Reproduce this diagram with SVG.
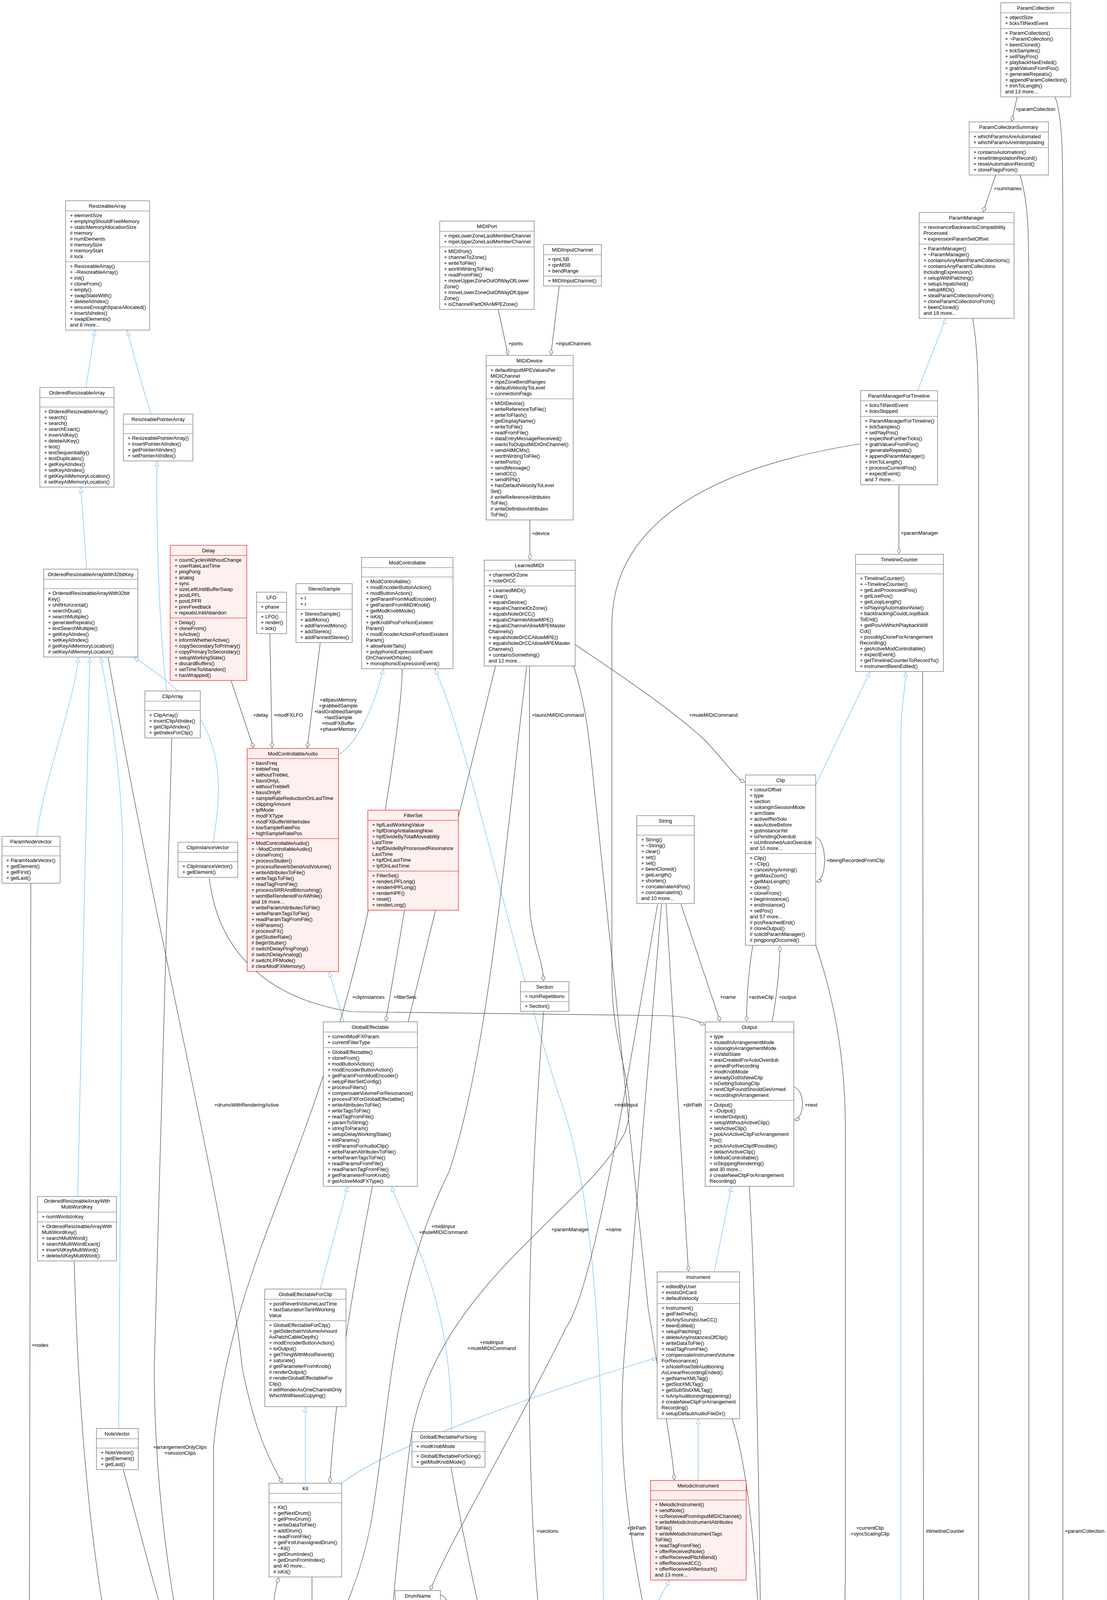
<svg xmlns="http://www.w3.org/2000/svg" width="2835" height="6858" viewBox="0 0 2835 6858">
<style>
text{font-family:"Liberation Sans",Arial,sans-serif;font-size:13px;fill:#000}
.h{text-anchor:middle}
.m{text-anchor:middle}
.node rect{fill:#fff;stroke:#666;stroke-width:1.2}
.node path{stroke:#666;stroke-width:1;fill:none}
.red rect{fill:#fff0f0;stroke:#f00}
.red path{stroke:#f00}
.grey rect{fill:#999;stroke:#666}
.e{fill:none;stroke:#404040;stroke-width:1.2;marker-end:url(#dia)}
.i{fill:none;stroke:#63b8ff;stroke-width:1.2;marker-end:url(#tri)}
</style>
<defs>
<marker id="dia" markerUnits="userSpaceOnUse" markerWidth="16" markerHeight="12" refX="15" refY="6" orient="auto"><path d="M1,6 L8,1.5 L15,6 L8,10.5 Z" fill="#fff" stroke="#404040"/></marker>
<marker id="tri" markerUnits="userSpaceOnUse" markerWidth="14" markerHeight="12" refX="13" refY="6" orient="auto"><path d="M1,1 L13,6 L1,11 Z" fill="#fff" stroke="#63b8ff"/></marker>
</defs>
<rect width="2835" height="6858" fill="#fff"/>
<g id="edges">
<path class="i" d="M220,992 L243,846"/>
<path class="i" d="M387,1060 C370,1010 340,900 326,846"/>
<path class="i" d="M222,1457 L207,1248"/>
<path class="i" d="M427,1769 C405,1600 400,1300 402,1181"/>
<path class="i" d="M94,2141 C110,2000 190,1800 201,1683"/>
<path class="i" d="M199,3063 L230,1683"/>
<path class="i" d="M304,3657 L314,2200 C316,2000 280,1800 258,1683"/>
<path class="i" d="M546,2156 C580,1950 560,1820 343,1683"/>
<path class="i" d="M867,1932 C920,1900 960,1800 982,1713"/>
<path class="i" d="M881,2616 L843,2488"/>
<path class="i" d="M820,3300 L890,3038"/>
<path class="i" d="M1157,3665 C1157,3300 1040,3150 1003,3038"/>
<path class="i" d="M782,3797 L782,3602"/>
<path class="i" d="M875,3797 C1000,3700 1400,3560 1682,3476"/>
<path class="i" d="M1629,4197 L1715,4046"/>
<path class="i" d="M1545,4197 C1545,3600 1540,3100 1430,2800 C1300,2400 1200,1900 1114,1713"/>
<path class="i" d="M1788,3790 L1788,3633"/>
<path class="i" d="M1829,3256 L1873,3038"/>
<path class="i" d="M1713,4649 L1629,4499"/>
<path class="i" d="M2089,2009 L2228,1720"/>
<path class="i" d="M1831,5240 C2100,5150 2307,4900 2307,4600 L2307,1900 C2307,1800 2320,1760 2319,1720"/>
<path class="i" d="M1078,5834 C1250,5780 1450,5720 1600,5653"/>
<path class="i" d="M963,6087 L963,6021"/>
<path class="i" d="M2381,6276 L1069,6137"/>
<path class="i" d="M2564,6417 L2537,6364"/>
<path class="i" d="M1600,6605 L2485,6480"/>
<path class="i" d="M259,6745 L194,6680"/>
<path class="i" d="M2350,1000 L2422,816"/>
<path class="e" d="M1276,793 L1301,908"/>
<path class="e" d="M1432,733 L1411,908"/>
<path class="e" d="M1357,1331 L1357,1432"/>
<path class="e" d="M2605,248 L2591,310"/>
<path class="e" d="M2550,448 L2518,542"/>
<path class="e" d="M2302,1241 L2302,1417"/>
<path class="e" d="M2491,815 C2506,900 2506,1000 2506,1200 L2506,6100 C2506,6160 2501,6180 2501,6211"/>
<path class="e" d="M2612,448 C2635,520 2635,600 2635,800 L2635,6300 C2635,6370 2613,6390 2611,6415"/>
<path class="e" d="M2702,248 C2722,300 2722,400 2722,600 L2722,6300 C2722,6370 2670,6390 2658,6415"/>
<path class="e" d="M2363,1720 L2366,5200 C2366,5450 2100,5560 1840,5596"/>
<path class="e" d="M592,1743 L649,1914"/>
<path class="e" d="M691,1623 L697,1914"/>
<path class="e" d="M820,1646 L787,1914"/>
<path class="e" d="M1036,2330 L988,2614"/>
<path class="e" d="M536,2248 C560,2450 700,2560 900,2590 L1700,2600 C1760,2602 1780,2610 1804,2624"/>
<path class="e" d="M1356,1705 L1356,2300 C1356,2400 1390,2450 1392,2511"/>
<path class="e" d="M1744,2315 L1844,2614"/>
<path class="e" d="M1928,2419 C1915,2500 1912,2560 1912,2614"/>
<path class="e" d="M1977,2616 C1990,2550 1997,2470 1997,2422"/>
<path class="e" d="M2089,2143 C2118,2150 2120,2250 2091,2257"/>
<path class="e" d="M2033,2783 C2062,2790 2062,2860 2035,2867"/>
<path class="e" d="M1473,1650 C1560,1710 1700,1800 1800,1890 C1860,1950 1880,1990 1907,2002"/>
<path class="e" d="M1706,2315 L1763,3254"/>
<path class="e" d="M1684,2315 C1600,2800 1520,3300 1449,3400 C1300,3700 1150,3950 1102,4070"/>
<path class="e" d="M1694,2315 L1600,3450 C1580,3700 1600,3900 1680,4267 C1700,4700 1684,4900 1684,5073"/>
<path class="e" d="M1777,4996 L1762,5073"/>
<path class="e" d="M1919,3037 C1935,3300 1950,4000 1950,4600 C1950,4900 1900,5050 1834,5180"/>
<path class="e" d="M1875,3632 C1930,3800 1955,4200 1955,4600 C1955,4950 1880,5100 1834,5172"/>
<path class="e" d="M2089,2419 C2150,2600 2165,2750 2165,2900 L2165,4000 C2165,4300 2130,4500 2100,4700 C2050,4950 1900,5100 1834,5190"/>
<path class="e" d="M1741,5467 L1741,5530"/>
<path class="e" d="M928,5011 L956,5733"/>
<path class="e" d="M827,4506 L860,4632"/>
<path class="e" d="M1065,4163 L999,4632"/>
<path class="e" d="M799,4038 L799,4188"/>
<path class="e" d="M710,4190 C695,4130 700,4080 714,4039"/>
<path class="e" d="M886,4311 C915,4320 920,4375 888,4381"/>
<path class="e" d="M1128,4083 C1155,4090 1158,4145 1130,4150"/>
<path class="e" d="M1155,3756 C1250,4300 1400,4800 1500,5050 C1540,5150 1570,5200 1606,5218"/>
<path class="e" d="M1030,1713 C1030,1800 1000,2000 950,2300 C800,3000 600,3200 547,3700 L547,5900 C560,6050 750,6090 855,6106"/>
<path class="e" d="M316,3763 C380,4000 480,4400 560,4530 C620,4620 750,4700 807,4757"/>
<path class="e" d="M440,1890 L395,3500 C395,3900 470,4300 540,4500 C700,4900 1300,5150 1606,5262"/>
<path class="e" d="M277,1683 C400,2400 580,3100 620,3500 C650,3650 680,3720 722,3795"/>
<path class="e" d="M79,2262 L75,4300 C80,4400 150,4450 165,4531"/>
<path class="e" d="M202,4608 C280,4900 313,5200 313,5500 L313,6743"/>
<path class="e" d="M190,3229 C200,3600 230,4000 300,4300 C450,4800 700,5000 1000,5100 C1300,5180 1500,5220 1606,5255"/>
<path class="e" d="M1392,2590 C1360,3000 1340,3500 1370,4000 C1400,4500 1520,4800 1625,5073"/>
<path class="e" d="M1794,4408 L1778,4647"/>
<path class="e" d="M1434,6625 L418,6782"/>
<path class="e" d="M1349,1705 C1290,2200 1250,2700 1150,3000 C1000,3300 1000,3600 950,3900 C920,4050 870,4150 848,4188"/>
<path class="e" d="M1469,1705 C1500,1800 1510,1900 1520,2000 C1570,2500 1620,3000 1660,3350 C1700,3600 1720,3700 1727,3788"/>
<path class="e" d="M1269,1705 C1200,2000 1100,2400 1000,2800 C900,3300 860,3550 845,3795"/>
<path class="e" d="M2204,1136 C1800,1200 1567,1350 1567,1600 L1567,2500 C1567,2700 1640,2800 1600,2900 C1500,3100 1100,3300 1050,3700 C1000,4100 985,4400 958,4632"/>
</g>
<g id="labels">
<text x="1302" y="884">+ports</text>
<text x="1423" y="884">+inputChannels</text>
<text x="1362" y="1370">+device</text>
<text x="2601" y="284">+paramCollection</text>
<text x="2545" y="487">+summaries</text>
<text x="2307" y="1369">+paramManager</text>
<text x="648" y="1835">+delay</text>
<text x="701" y="1835">+modFXLFO</text>
<text class="m" x="866" y="1796">+allpassMemory</text>
<text class="m" x="866" y="1811">+grabbedSample</text>
<text class="m" x="866" y="1826">+lastGrabbedSample</text>
<text class="m" x="866" y="1841">+lastSample</text>
<text class="m" x="866" y="1856">+modFXBuffer</text>
<text class="m" x="866" y="1871">+phaserMemory</text>
<text x="1362" y="1835">+launchMIDICommand</text>
<text x="1765" y="1835">+muteMIDICommand</text>
<text x="902" y="2557">+clipInstances</text>
<text x="1008" y="2557">+filterSets</text>
<text x="1844" y="2557">+name</text>
<text x="1917" y="2557">+activeClip</text>
<text x="1995" y="2557">+output</text>
<text x="2117" y="2207">+beingRecordedFromClip</text>
<text x="2061" y="2833">+next</text>
<text x="549" y="2833">+drumsWithRenderingActive</text>
<text x="1573" y="2833">+midiInput</text>
<text x="1749" y="2833">+dirPath</text>
<text class="m" x="1135" y="3144">+midiInput</text>
<text class="m" x="1135" y="3159">+muteMIDICommand</text>
<text x="1412" y="3152">+paramManager</text>
<text x="1551" y="3152">+name</text>
<text x="81" y="3448">+nodes</text>
<text class="m" x="1259" y="3441">+midiInput</text>
<text class="m" x="1259" y="3456">+muteMIDICommand</text>
<text class="m" x="461" y="3709">+arrangementOnlyClips</text>
<text class="m" x="461" y="3724">+sessionClips</text>
<text class="m" x="1630" y="3916">+dirPath</text>
<text class="m" x="1630" y="3931">+name</text>
<text x="1374" y="3924">+sections</text>
<text class="m" x="2228" y="3916">+currentClip</text>
<text class="m" x="2228" y="3931">+syncScalingClip</text>
<text x="2371" y="3924">#timelineCounter</text>
<text x="2727" y="3924">+paramCollection</text>
<text x="2109" y="4124">+firstOutput</text>
<text x="2511" y="4124">+paramManager</text>
<text x="2641" y="4124">+summary</text>
<text x="1959" y="4354">+firstHibernatingInstrument</text>
<text x="1781" y="4576">+mpeOutputMemberChannels</text>
<text x="228" y="4124">+backedUpParamManagers</text>
<text x="421" y="4124">+notes</text>
<text class="m" x="754" y="4116">+firstDrum</text>
<text class="m" x="754" y="4131">+selectedDrum</text>
<text x="805" y="4124">+kit</text>
<text x="914" y="4354">+next</text>
<text x="1156" y="4124">+next</text>
<text x="550" y="4354">+modControllable</text>
<text x="1068" y="4354">+firstOldDrumName</text>
<text x="1270" y="4354">+globalEffectable</text>
<text x="858" y="4576">+drum</text>
<text x="1769" y="5050">+hibernatingMIDIInstrument</text>
<text x="1745" y="5505">+song</text>
<text x="953" y="5505">#noteRow</text>
<text x="318" y="6059">+state</text>
<text x="243" y="6625">+next</text>
<text x="922" y="6717">+modelStack</text>
</g>

<g id="n_ResizeableArray" class="node"><rect x="168" y="514" width="215" height="331"/><path d="M168,540 h215 M168,670 h215"/><text class="h" x="275" y="532">ResizeableArray</text>
<text x="179" y="541"><tspan x="179" dy="15">+ elementSize</tspan><tspan x="179" dy="15">+ emptyingShouldFreeMemory</tspan><tspan x="179" dy="15">+ staticMemoryAllocationSize</tspan><tspan x="179" dy="15"># memory</tspan><tspan x="179" dy="15"># numElements</tspan><tspan x="179" dy="15"># memorySize</tspan><tspan x="179" dy="15"># memoryStart</tspan><tspan x="179" dy="15"># lock</tspan></text>
<text x="179" y="671"><tspan x="179" dy="15">+ ResizeableArray()</tspan><tspan x="179" dy="15">+ ~ResizeableArray()</tspan><tspan x="179" dy="15">+ init()</tspan><tspan x="179" dy="15">+ cloneFrom()</tspan><tspan x="179" dy="15">+ empty()</tspan><tspan x="179" dy="15">+ swapStateWith()</tspan><tspan x="179" dy="15">+ deleteAtIndex()</tspan><tspan x="179" dy="15">+ ensureEnoughSpaceAllocated()</tspan><tspan x="179" dy="15">+ insertAtIndex()</tspan><tspan x="179" dy="15">+ swapElements()</tspan><tspan x="179" dy="15">and 8 more...</tspan></text></g>

<g id="n_OrderedResizeableArray" class="node"><rect x="102" y="992" width="190" height="255"/><path d="M102,1018 h190 M102,1042 h190"/><text class="h" x="197" y="1010">OrderedResizeableArray</text>
<text x="113" y="1043"><tspan x="113" dy="15">+ OrderedResizeableArray()</tspan><tspan x="113" dy="15">+ search()</tspan><tspan x="113" dy="15">+ search()</tspan><tspan x="113" dy="15">+ searchExact()</tspan><tspan x="113" dy="15">+ insertAtKey()</tspan><tspan x="113" dy="15">+ deleteAtKey()</tspan><tspan x="113" dy="15">+ test()</tspan><tspan x="113" dy="15">+ testSequentiality()</tspan><tspan x="113" dy="15">+ testDuplicates()</tspan><tspan x="113" dy="15">+ getKeyAtIndex()</tspan><tspan x="113" dy="15">+ setKeyAtIndex()</tspan><tspan x="113" dy="15"># getKeyAtMemoryLocation()</tspan><tspan x="113" dy="15"># setKeyAtMemoryLocation()</tspan></text></g>

<g id="n_ResizeablePointerArray" class="node"><rect x="316" y="1060" width="178" height="120"/><path d="M316,1086 h178 M316,1110 h178"/><text class="h" x="405" y="1078">ResizeablePointerArray</text>
<text x="327" y="1111"><tspan x="327" dy="15">+ ResizeablePointerArray()</tspan><tspan x="327" dy="15">+ insertPointerAtIndex()</tspan><tspan x="327" dy="15">+ getPointerAtIndex()</tspan><tspan x="327" dy="15">+ setPointerAtIndex()</tspan></text></g>

<g id="n_OrderedResizeableArrayWith32bitKey" class="node"><rect x="112" y="1457" width="241" height="225"/><path d="M112,1483 h241 M112,1507 h241"/><text class="h" x="232" y="1475">OrderedResizeableArrayWith32bitKey</text>
<text x="123" y="1508"><tspan x="123" dy="15">+ OrderedResizeableArrayWith32bit</tspan><tspan x="123" dy="15">Key()</tspan><tspan x="123" dy="15">+ shiftHorizontal()</tspan><tspan x="123" dy="15">+ searchDual()</tspan><tspan x="123" dy="15">+ searchMultiple()</tspan><tspan x="123" dy="15">+ generateRepeats()</tspan><tspan x="123" dy="15">+ testSearchMultiple()</tspan><tspan x="123" dy="15">+ getKeyAtIndex()</tspan><tspan x="123" dy="15">+ setKeyAtIndex()</tspan><tspan x="123" dy="15"># getKeyAtMemoryLocation()</tspan><tspan x="123" dy="15"># setKeyAtMemoryLocation()</tspan></text></g>

<g id="n_Delay" class="node red"><rect x="436" y="1396" width="196" height="346"/><path d="M436,1422 h196 M436,1582 h196"/><text class="h" x="534" y="1414">Delay</text>
<text x="447" y="1423"><tspan x="447" dy="15">+ countCyclesWithoutChange</tspan><tspan x="447" dy="15">+ userRateLastTime</tspan><tspan x="447" dy="15">+ pingPong</tspan><tspan x="447" dy="15">+ analog</tspan><tspan x="447" dy="15">+ sync</tspan><tspan x="447" dy="15">+ sizeLeftUntilBufferSwap</tspan><tspan x="447" dy="15">+ postLPFL</tspan><tspan x="447" dy="15">+ postLPFR</tspan><tspan x="447" dy="15">+ prevFeedback</tspan><tspan x="447" dy="15">+ repeatsUntilAbandon</tspan></text>
<text x="447" y="1583"><tspan x="447" dy="15">+ Delay()</tspan><tspan x="447" dy="15">+ cloneFrom()</tspan><tspan x="447" dy="15">+ isActive()</tspan><tspan x="447" dy="15">+ informWhetherActive()</tspan><tspan x="447" dy="15">+ copySecondaryToPrimary()</tspan><tspan x="447" dy="15">+ copyPrimaryToSecondary()</tspan><tspan x="447" dy="15">+ setupWorkingState()</tspan><tspan x="447" dy="15">+ discardBuffers()</tspan><tspan x="447" dy="15">+ setTimeToAbandon()</tspan><tspan x="447" dy="15">+ hasWrapped()</tspan></text></g>

<g id="n_LFO" class="node"><rect x="657" y="1516" width="77" height="106"/><path d="M657,1542 h77 M657,1567 h77"/><text class="h" x="695" y="1534">LFO</text>
<text x="668" y="1543"><tspan x="668" dy="15">+ phase</tspan></text>
<text x="668" y="1568"><tspan x="668" dy="15">+ LFO()</tspan><tspan x="668" dy="15">+ render()</tspan><tspan x="668" dy="15">+ tick()</tspan></text></g>

<g id="n_StereoSample" class="node"><rect x="758" y="1494" width="144" height="151"/><path d="M758,1520 h144 M758,1560 h144"/><text class="h" x="830" y="1512">StereoSample</text>
<text x="769" y="1521"><tspan x="769" dy="15">+ l</tspan><tspan x="769" dy="15">+ r</tspan></text>
<text x="769" y="1561"><tspan x="769" dy="15">+ StereoSample()</tspan><tspan x="769" dy="15">+ addMono()</tspan><tspan x="769" dy="15">+ addPannedMono()</tspan><tspan x="769" dy="15">+ addStereo()</tspan><tspan x="769" dy="15">+ addPannedStereo()</tspan></text></g>

<g id="n_ModControllable" class="node"><rect x="926" y="1427" width="234" height="285"/><path d="M926,1453 h234 M926,1477 h234"/><text class="h" x="1043" y="1445">ModControllable</text>
<text x="937" y="1478"><tspan x="937" dy="15">+ ModControllable()</tspan><tspan x="937" dy="15">+ modEncoderButtonAction()</tspan><tspan x="937" dy="15">+ modButtonAction()</tspan><tspan x="937" dy="15">+ getParamFromModEncoder()</tspan><tspan x="937" dy="15">+ getParamFromMIDIKnob()</tspan><tspan x="937" dy="15">+ getModKnobMode()</tspan><tspan x="937" dy="15">+ isKit()</tspan><tspan x="937" dy="15">+ getKnobPosForNonExistent</tspan><tspan x="937" dy="15">Param()</tspan><tspan x="937" dy="15">+ modEncoderActionForNonExistent</tspan><tspan x="937" dy="15">Param()</tspan><tspan x="937" dy="15">+ allowNoteTails()</tspan><tspan x="937" dy="15">+ polyphonicExpressionEvent</tspan><tspan x="937" dy="15">OnChannelOrNote()</tspan><tspan x="937" dy="15">+ monophonicExpressionEvent()</tspan></text></g>

<g id="n_MIDIPort" class="node"><rect x="1126" y="566" width="242" height="226"/><path d="M1126,592 h242 M1126,632 h242"/><text class="h" x="1247" y="584">MIDIPort</text>
<text x="1137" y="593"><tspan x="1137" dy="15">+ mpeLowerZoneLastMemberChannel</tspan><tspan x="1137" dy="15">+ mpeUpperZoneLastMemberChannel</tspan></text>
<text x="1137" y="633"><tspan x="1137" dy="15">+ MIDIPort()</tspan><tspan x="1137" dy="15">+ channelToZone()</tspan><tspan x="1137" dy="15">+ writeToFile()</tspan><tspan x="1137" dy="15">+ worthWritingToFile()</tspan><tspan x="1137" dy="15">+ readFromFile()</tspan><tspan x="1137" dy="15">+ moveUpperZoneOutOfWayOfLower</tspan><tspan x="1137" dy="15">Zone()</tspan><tspan x="1137" dy="15">+ moveLowerZoneOutOfWayOfUpper</tspan><tspan x="1137" dy="15">Zone()</tspan><tspan x="1137" dy="15">+ isChannelPartOfAnMPEZone()</tspan></text></g>

<g id="n_MIDIInputChannel" class="node"><rect x="1392" y="626" width="148" height="106"/><path d="M1392,652 h148 M1392,707 h148"/><text class="h" x="1466" y="644">MIDIInputChannel</text>
<text x="1403" y="653"><tspan x="1403" dy="15">+ rpnLSB</tspan><tspan x="1403" dy="15">+ rpnMSB</tspan><tspan x="1403" dy="15">+ bendRange</tspan></text>
<text x="1403" y="708"><tspan x="1403" dy="15">+ MIDIInputChannel()</tspan></text></g>

<g id="n_MIDIDevice" class="node"><rect x="1245" y="910" width="223" height="421"/><path d="M1245,936 h223 M1245,1021 h223"/><text class="h" x="1356" y="928">MIDIDevice</text>
<text x="1256" y="937"><tspan x="1256" dy="15">+ defaultInputMPEValuesPer</tspan><tspan x="1256" dy="15">MIDIChannel</tspan><tspan x="1256" dy="15">+ mpeZoneBendRanges</tspan><tspan x="1256" dy="15">+ defaultVelocityToLevel</tspan><tspan x="1256" dy="15">+ connectionFlags</tspan></text>
<text x="1256" y="1022"><tspan x="1256" dy="15">+ MIDIDevice()</tspan><tspan x="1256" dy="15">+ writeReferenceToFile()</tspan><tspan x="1256" dy="15">+ writeToFlash()</tspan><tspan x="1256" dy="15">+ getDisplayName()</tspan><tspan x="1256" dy="15">+ writeToFile()</tspan><tspan x="1256" dy="15">+ readFromFile()</tspan><tspan x="1256" dy="15">+ dataEntryMessageReceived()</tspan><tspan x="1256" dy="15">+ wantsToOutputMIDIOnChannel()</tspan><tspan x="1256" dy="15">+ sendAllMCMs()</tspan><tspan x="1256" dy="15">+ worthWritingToFile()</tspan><tspan x="1256" dy="15">+ writePorts()</tspan><tspan x="1256" dy="15">+ sendMessage()</tspan><tspan x="1256" dy="15">+ sendCC()</tspan><tspan x="1256" dy="15">+ sendRPN()</tspan><tspan x="1256" dy="15">+ hasDefaultVelocityToLevel</tspan><tspan x="1256" dy="15">Set()</tspan><tspan x="1256" dy="15"># writeReferenceAttributes</tspan><tspan x="1256" dy="15">ToFile()</tspan><tspan x="1256" dy="15"># writeDefinitionAttributes</tspan><tspan x="1256" dy="15">ToFile()</tspan></text></g>

<g id="n_LearnedMIDI" class="node"><rect x="1240" y="1434" width="233" height="271"/><path d="M1240,1460 h233 M1240,1500 h233"/><text class="h" x="1356" y="1452">LearnedMIDI</text>
<text x="1251" y="1461"><tspan x="1251" dy="15">+ channelOrZone</tspan><tspan x="1251" dy="15">+ noteOrCC</tspan></text>
<text x="1251" y="1501"><tspan x="1251" dy="15">+ LearnedMIDI()</tspan><tspan x="1251" dy="15">+ clear()</tspan><tspan x="1251" dy="15">+ equalsDevice()</tspan><tspan x="1251" dy="15">+ equalsChannelOrZone()</tspan><tspan x="1251" dy="15">+ equalsNoteOrCC()</tspan><tspan x="1251" dy="15">+ equalsChannelAllowMPE()</tspan><tspan x="1251" dy="15">+ equalsChannelAllowMPEMaster</tspan><tspan x="1251" dy="15">Channels()</tspan><tspan x="1251" dy="15">+ equalsNoteOrCCAllowMPE()</tspan><tspan x="1251" dy="15">+ equalsNoteOrCCAllowMPEMaster</tspan><tspan x="1251" dy="15">Channels()</tspan><tspan x="1251" dy="15">+ containsSomething()</tspan><tspan x="1251" dy="15">and 12 more...</tspan></text></g>

<g id="n_ParamCollection" class="node"><rect x="2563" y="7" width="179" height="241"/><path d="M2563,33 h179 M2563,73 h179"/><text class="h" x="2652" y="25">ParamCollection</text>
<text x="2574" y="34"><tspan x="2574" dy="15">+ objectSize</tspan><tspan x="2574" dy="15">+ ticksTilNextEvent</tspan></text>
<text x="2574" y="74"><tspan x="2574" dy="15">+ ParamCollection()</tspan><tspan x="2574" dy="15">+ ~ParamCollection()</tspan><tspan x="2574" dy="15">+ beenCloned()</tspan><tspan x="2574" dy="15">+ tickSamples()</tspan><tspan x="2574" dy="15">+ setPlayPos()</tspan><tspan x="2574" dy="15">+ playbackHasEnded()</tspan><tspan x="2574" dy="15">+ grabValuesFromPos()</tspan><tspan x="2574" dy="15">+ generateRepeats()</tspan><tspan x="2574" dy="15">+ appendParamCollection()</tspan><tspan x="2574" dy="15">+ trimToLength()</tspan><tspan x="2574" dy="15">and 13 more...</tspan></text></g>

<g id="n_ParamCollectionSummary" class="node"><rect x="2482" y="312" width="203" height="136"/><path d="M2482,338 h203 M2482,378 h203"/><text class="h" x="2583" y="330">ParamCollectionSummary</text>
<text x="2493" y="339"><tspan x="2493" dy="15">+ whichParamsAreAutomated</tspan><tspan x="2493" dy="15">+ whichParamsAreInterpolating</tspan></text>
<text x="2493" y="379"><tspan x="2493" dy="15">+ containsAutomation()</tspan><tspan x="2493" dy="15">+ resetInterpolationRecord()</tspan><tspan x="2493" dy="15">+ resetAutomationRecord()</tspan><tspan x="2493" dy="15">+ cloneFlagsFrom()</tspan></text></g>

<g id="n_ParamManager" class="node"><rect x="2354" y="544" width="243" height="271"/><path d="M2354,570 h243 M2354,625 h243"/><text class="h" x="2475" y="562">ParamManager</text>
<text x="2365" y="571"><tspan x="2365" dy="15">+ resonanceBackwardsCompatibility</tspan><tspan x="2365" dy="15">Processed</tspan><tspan x="2365" dy="15">+ expressionParamSetOffset</tspan></text>
<text x="2365" y="626"><tspan x="2365" dy="15">+ ParamManager()</tspan><tspan x="2365" dy="15">+ ~ParamManager()</tspan><tspan x="2365" dy="15">+ containsAnyMainParamCollections()</tspan><tspan x="2365" dy="15">+ containsAnyParamCollections</tspan><tspan x="2365" dy="15">IncludingExpression()</tspan><tspan x="2365" dy="15">+ setupWithPatching()</tspan><tspan x="2365" dy="15">+ setupUnpatched()</tspan><tspan x="2365" dy="15">+ setupMIDI()</tspan><tspan x="2365" dy="15">+ stealParamCollectionsFrom()</tspan><tspan x="2365" dy="15">+ cloneParamCollectionsFrom()</tspan><tspan x="2365" dy="15">+ beenCloned()</tspan><tspan x="2365" dy="15">and 19 more...</tspan></text></g>

<g id="n_ParamManagerForTimeline" class="node"><rect x="2204" y="1000" width="197" height="241"/><path d="M2204,1026 h197 M2204,1066 h197"/><text class="h" x="2302" y="1018">ParamManagerForTimeline</text>
<text x="2215" y="1027"><tspan x="2215" dy="15">+ ticksTilNextEvent</tspan><tspan x="2215" dy="15">+ ticksSkipped</tspan></text>
<text x="2215" y="1067"><tspan x="2215" dy="15">+ ParamManagerForTimeline()</tspan><tspan x="2215" dy="15">+ tickSamples()</tspan><tspan x="2215" dy="15">+ setPlayPos()</tspan><tspan x="2215" dy="15">+ expectNoFurtherTicks()</tspan><tspan x="2215" dy="15">+ grabValuesFromPos()</tspan><tspan x="2215" dy="15">+ generateRepeats()</tspan><tspan x="2215" dy="15">+ appendParamManager()</tspan><tspan x="2215" dy="15">+ trimToLength()</tspan><tspan x="2215" dy="15">+ processCurrentPos()</tspan><tspan x="2215" dy="15">+ expectEvent()</tspan><tspan x="2215" dy="15">and 7 more...</tspan></text></g>

<g id="n_TimelineCounter" class="node"><rect x="2191" y="1419" width="225" height="300"/><path d="M2191,1445 h225 M2191,1469 h225"/><text class="h" x="2303" y="1437">TimelineCounter</text>
<text x="2202" y="1470"><tspan x="2202" dy="15">+ TimelineCounter()</tspan><tspan x="2202" dy="15">+ ~TimelineCounter()</tspan><tspan x="2202" dy="15">+ getLastProcessedPos()</tspan><tspan x="2202" dy="15">+ getLivePos()</tspan><tspan x="2202" dy="15">+ getLoopLength()</tspan><tspan x="2202" dy="15">+ isPlayingAutomationNow()</tspan><tspan x="2202" dy="15">+ backtrackingCouldLoopBack</tspan><tspan x="2202" dy="15">ToEnd()</tspan><tspan x="2202" dy="15">+ getPosAtWhichPlaybackWill</tspan><tspan x="2202" dy="15">Cut()</tspan><tspan x="2202" dy="15">+ possiblyCloneForArrangement</tspan><tspan x="2202" dy="15">Recording()</tspan><tspan x="2202" dy="15">+ getActiveModControllable()</tspan><tspan x="2202" dy="15">+ expectEvent()</tspan><tspan x="2202" dy="15">+ getTimelineCounterToRecordTo()</tspan><tspan x="2202" dy="15">+ instrumentBeenEdited()</tspan></text></g>

<g id="n_ClipArray" class="node"><rect x="371" y="1769" width="142" height="120"/><path d="M371,1795 h142 M371,1819 h142"/><text class="h" x="442" y="1787">ClipArray</text>
<text x="382" y="1820"><tspan x="382" dy="15">+ ClipArray()</tspan><tspan x="382" dy="15">+ insertClipAtIndex()</tspan><tspan x="382" dy="15">+ getClipAtIndex()</tspan><tspan x="382" dy="15">+ getIndexForClip()</tspan></text></g>

<g id="n_ParamNodeVector" class="node"><rect x="5" y="2141" width="149" height="120"/><path d="M5,2167 h149 M5,2191 h149"/><text class="h" x="79" y="2159">ParamNodeVector</text>
<text x="16" y="2192"><tspan x="16" dy="15">+ ParamNodeVector()</tspan><tspan x="16" dy="15">+ getElement()</tspan><tspan x="16" dy="15">+ getFirst()</tspan><tspan x="16" dy="15">+ getLast()</tspan></text></g>

<g id="n_ClipInstanceVector" class="node"><rect x="456" y="2156" width="153" height="90"/><path d="M456,2182 h153 M456,2206 h153"/><text class="h" x="532" y="2174">ClipInstanceVector</text>
<text x="467" y="2207"><tspan x="467" dy="15">+ ClipInstanceVector()</tspan><tspan x="467" dy="15">+ getElement()</tspan></text></g>

<g id="n_ModControllableAudio" class="node red"><rect x="633" y="1916" width="234" height="571"/><path d="M633,1942 h234 M633,2147 h234"/><text class="h" x="750" y="1934">ModControllableAudio</text>
<text x="644" y="1943"><tspan x="644" dy="15">+ bassFreq</tspan><tspan x="644" dy="15">+ trebleFreq</tspan><tspan x="644" dy="15">+ withoutTrebleL</tspan><tspan x="644" dy="15">+ bassOnlyL</tspan><tspan x="644" dy="15">+ withoutTrebleR</tspan><tspan x="644" dy="15">+ bassOnlyR</tspan><tspan x="644" dy="15">+ sampleRateReductionOnLastTime</tspan><tspan x="644" dy="15">+ clippingAmount</tspan><tspan x="644" dy="15">+ lpfMode</tspan><tspan x="644" dy="15">+ modFXType</tspan><tspan x="644" dy="15">+ modFXBufferWriteIndex</tspan><tspan x="644" dy="15">+ lowSampleRatePos</tspan><tspan x="644" dy="15">+ highSampleRatePos</tspan></text>
<text x="644" y="2148"><tspan x="644" dy="15">+ ModControllableAudio()</tspan><tspan x="644" dy="15">+ ~ModControllableAudio()</tspan><tspan x="644" dy="15">+ cloneFrom()</tspan><tspan x="644" dy="15">+ processStutter()</tspan><tspan x="644" dy="15">+ processReverbSendAndVolume()</tspan><tspan x="644" dy="15">+ writeAttributesToFile()</tspan><tspan x="644" dy="15">+ writeTagsToFile()</tspan><tspan x="644" dy="15">+ readTagFromFile()</tspan><tspan x="644" dy="15">+ processSRRAndBitcrushing()</tspan><tspan x="644" dy="15">+ wontBeRenderedForAWhile()</tspan><tspan x="644" dy="15">and 16 more...</tspan><tspan x="644" dy="15">+ writeParamAttributesToFile()</tspan><tspan x="644" dy="15">+ writeParamTagsToFile()</tspan><tspan x="644" dy="15">+ readParamTagFromFile()</tspan><tspan x="644" dy="15">+ initParams()</tspan><tspan x="644" dy="15"># processFX()</tspan><tspan x="644" dy="15"># getStutterRate()</tspan><tspan x="644" dy="15"># beginStutter()</tspan><tspan x="644" dy="15"># switchDelayPingPong()</tspan><tspan x="644" dy="15"># switchDelayAnalog()</tspan><tspan x="644" dy="15"># switchLPFMode()</tspan><tspan x="644" dy="15"># clearModFXMemory()</tspan></text></g>

<g id="n_FilterSet" class="node red"><rect x="942" y="2074" width="232" height="256"/><path d="M942,2100 h232 M942,2230 h232"/><text class="h" x="1058" y="2092">FilterSet</text>
<text x="953" y="2101"><tspan x="953" dy="15">+ hpfLastWorkingValue</tspan><tspan x="953" dy="15">+ hpfDoingAntialiasingNow</tspan><tspan x="953" dy="15">+ hpfDivideByTotalMoveability</tspan><tspan x="953" dy="15">LastTime</tspan><tspan x="953" dy="15">+ hpfDivideByProcessedResonance</tspan><tspan x="953" dy="15">LastTime</tspan><tspan x="953" dy="15">+ hpfOnLastTime</tspan><tspan x="953" dy="15">+ lpfOnLastTime</tspan></text>
<text x="953" y="2231"><tspan x="953" dy="15">+ FilterSet()</tspan><tspan x="953" dy="15">+ renderLPFLong()</tspan><tspan x="953" dy="15">+ renderHPFLong()</tspan><tspan x="953" dy="15">+ renderHPF()</tspan><tspan x="953" dy="15">+ reset()</tspan><tspan x="953" dy="15">+ renderLong()</tspan></text></g>

<g id="n_GlobalEffectable" class="node"><rect x="828" y="2616" width="241" height="421"/><path d="M828,2642 h241 M828,2682 h241"/><text class="h" x="948" y="2634">GlobalEffectable</text>
<text x="839" y="2643"><tspan x="839" dy="15">+ currentModFXParam</tspan><tspan x="839" dy="15">+ currentFilterType</tspan></text>
<text x="839" y="2683"><tspan x="839" dy="15">+ GlobalEffectable()</tspan><tspan x="839" dy="15">+ cloneFrom()</tspan><tspan x="839" dy="15">+ modButtonAction()</tspan><tspan x="839" dy="15">+ modEncoderButtonAction()</tspan><tspan x="839" dy="15">+ getParamFromModEncoder()</tspan><tspan x="839" dy="15">+ setupFilterSetConfig()</tspan><tspan x="839" dy="15">+ processFilters()</tspan><tspan x="839" dy="15">+ compensateVolumeForResonance()</tspan><tspan x="839" dy="15">+ processFXForGlobalEffectable()</tspan><tspan x="839" dy="15">+ writeAttributesToFile()</tspan><tspan x="839" dy="15">+ writeTagsToFile()</tspan><tspan x="839" dy="15">+ readTagFromFile()</tspan><tspan x="839" dy="15">+ paramToString()</tspan><tspan x="839" dy="15">+ stringToParam()</tspan><tspan x="839" dy="15">+ setupDelayWorkingState()</tspan><tspan x="839" dy="15">+ initParams()</tspan><tspan x="839" dy="15">+ initParamsForAudioClip()</tspan><tspan x="839" dy="15">+ writeParamAttributesToFile()</tspan><tspan x="839" dy="15">+ writeParamTagsToFile()</tspan><tspan x="839" dy="15">+ readParamsFromFile()</tspan><tspan x="839" dy="15">+ readParamTagFromFile()</tspan><tspan x="839" dy="15"># getParameterFromKnob()</tspan><tspan x="839" dy="15"># getActiveModFXType()</tspan></text></g>

<g id="n_OrderedResizeableArrayWithMultiWordKey" class="node"><rect x="96" y="3063" width="202" height="165"/><path d="M96,3103 h202 M96,3128 h202"/><text class="h" x="197" y="3079">OrderedResizeableArrayWith</text><text class="h" x="197" y="3094">MultiWordKey</text>
<text x="107" y="3104"><tspan x="107" dy="15">+ numWordsInKey</tspan></text>
<text x="107" y="3129"><tspan x="107" dy="15">+ OrderedResizeableArrayWith</tspan><tspan x="107" dy="15">MultiWordKey()</tspan><tspan x="107" dy="15">+ searchMultiWord()</tspan><tspan x="107" dy="15">+ searchMultiWordExact()</tspan><tspan x="107" dy="15">+ insertAtKeyMultiWord()</tspan><tspan x="107" dy="15">+ deleteAtKeyMultiWord()</tspan></text></g>

<g id="n_GlobalEffectableForClip" class="node"><rect x="678" y="3300" width="208" height="301"/><path d="M678,3326 h208 M678,3381 h208"/><text class="h" x="782" y="3318">GlobalEffectableForClip</text>
<text x="689" y="3327"><tspan x="689" dy="15">+ postReverbVolumeLastTime</tspan><tspan x="689" dy="15">+ lastSaturationTanHWorking</tspan><tspan x="689" dy="15">Value</tspan></text>
<text x="689" y="3382"><tspan x="689" dy="15">+ GlobalEffectableForClip()</tspan><tspan x="689" dy="15">+ getSidechainVolumeAmount</tspan><tspan x="689" dy="15">AsPatchCableDepth()</tspan><tspan x="689" dy="15">+ modEncoderButtonAction()</tspan><tspan x="689" dy="15">+ toOutput()</tspan><tspan x="689" dy="15">+ getThingWithMostReverb()</tspan><tspan x="689" dy="15">+ saturate()</tspan><tspan x="689" dy="15"># getParameterFromKnob()</tspan><tspan x="689" dy="15"># renderOutput()</tspan><tspan x="689" dy="15"># renderGlobalEffectableFor</tspan><tspan x="689" dy="15">Clip()</tspan><tspan x="689" dy="15"># willRenderAsOneChannelOnly</tspan><tspan x="689" dy="15">WhichWillNeedCopying()</tspan></text></g>

<g id="n_Section" class="node"><rect x="1333" y="2513" width="124" height="76"/><path d="M1333,2539 h124 M1333,2564 h124"/><text class="h" x="1395" y="2531">Section</text>
<text x="1344" y="2540"><tspan x="1344" dy="15">+ numRepetitions</tspan></text>
<text x="1344" y="2565"><tspan x="1344" dy="15">+ Section()</tspan></text></g>

<g id="n_Clip" class="node"><rect x="1909" y="1984" width="180" height="436"/><path d="M1909,2010 h180 M1909,2185 h180"/><text class="h" x="1999" y="2002">Clip</text>
<text x="1920" y="2011"><tspan x="1920" dy="15">+ colourOffset</tspan><tspan x="1920" dy="15">+ type</tspan><tspan x="1920" dy="15">+ section</tspan><tspan x="1920" dy="15">+ soloingInSessionMode</tspan><tspan x="1920" dy="15">+ armState</tspan><tspan x="1920" dy="15">+ activeIfNoSolo</tspan><tspan x="1920" dy="15">+ wasActiveBefore</tspan><tspan x="1920" dy="15">+ gotInstanceYet</tspan><tspan x="1920" dy="15">+ isPendingOverdub</tspan><tspan x="1920" dy="15">+ isUnfinishedAutoOverdub</tspan><tspan x="1920" dy="15">and 10 more...</tspan></text>
<text x="1920" y="2186"><tspan x="1920" dy="15">+ Clip()</tspan><tspan x="1920" dy="15">+ ~Clip()</tspan><tspan x="1920" dy="15">+ cancelAnyArming()</tspan><tspan x="1920" dy="15">+ getMaxZoom()</tspan><tspan x="1920" dy="15">+ getMaxLength()</tspan><tspan x="1920" dy="15">+ clone()</tspan><tspan x="1920" dy="15">+ cloneFrom()</tspan><tspan x="1920" dy="15">+ beginInstance()</tspan><tspan x="1920" dy="15">+ endInstance()</tspan><tspan x="1920" dy="15">+ setPos()</tspan><tspan x="1920" dy="15">and 57 more...</tspan><tspan x="1920" dy="15"># posReachedEnd()</tspan><tspan x="1920" dy="15"># cloneOutput()</tspan><tspan x="1920" dy="15"># solicitParamManager()</tspan><tspan x="1920" dy="15"># pingpongOccurred()</tspan></text></g>

<g id="n_String" class="node"><rect x="1631" y="2088" width="147" height="225"/><path d="M1631,2114 h147 M1631,2138 h147"/><text class="h" x="1704" y="2106">String</text>
<text x="1642" y="2139"><tspan x="1642" dy="15">+ String()</tspan><tspan x="1642" dy="15">+ ~String()</tspan><tspan x="1642" dy="15">+ clear()</tspan><tspan x="1642" dy="15">+ set()</tspan><tspan x="1642" dy="15">+ set()</tspan><tspan x="1642" dy="15">+ beenCloned()</tspan><tspan x="1642" dy="15">+ getLength()</tspan><tspan x="1642" dy="15">+ shorten()</tspan><tspan x="1642" dy="15">+ concatenateAtPos()</tspan><tspan x="1642" dy="15">+ concatenateInt()</tspan><tspan x="1642" dy="15">and 10 more...</tspan></text></g>

<g id="n_Output" class="node"><rect x="1806" y="2616" width="227" height="421"/><path d="M1806,2642 h227 M1806,2817 h227"/><text class="h" x="1919" y="2634">Output</text>
<text x="1817" y="2643"><tspan x="1817" dy="15">+ type</tspan><tspan x="1817" dy="15">+ mutedInArrangementMode</tspan><tspan x="1817" dy="15">+ soloingInArrangementMode</tspan><tspan x="1817" dy="15">+ inValidState</tspan><tspan x="1817" dy="15">+ wasCreatedForAutoOverdub</tspan><tspan x="1817" dy="15">+ armedForRecording</tspan><tspan x="1817" dy="15">+ modKnobMode</tspan><tspan x="1817" dy="15">+ alreadyGotItsNewClip</tspan><tspan x="1817" dy="15">+ isGettingSoloingClip</tspan><tspan x="1817" dy="15">+ nextClipFoundShouldGetArmed</tspan><tspan x="1817" dy="15">+ recordingInArrangement</tspan></text>
<text x="1817" y="2818"><tspan x="1817" dy="15">+ Output()</tspan><tspan x="1817" dy="15">+ ~Output()</tspan><tspan x="1817" dy="15">+ renderOutput()</tspan><tspan x="1817" dy="15">+ setupWithoutActiveClip()</tspan><tspan x="1817" dy="15">+ setActiveClip()</tspan><tspan x="1817" dy="15">+ pickAnActiveClipForArrangement</tspan><tspan x="1817" dy="15">Pos()</tspan><tspan x="1817" dy="15">+ pickAnActiveClipIfPossible()</tspan><tspan x="1817" dy="15">+ detachActiveClip()</tspan><tspan x="1817" dy="15">+ toModControllable()</tspan><tspan x="1817" dy="15">+ isSkippingRendering()</tspan><tspan x="1817" dy="15">and 30 more...</tspan><tspan x="1817" dy="15"># createNewClipForArrangement</tspan><tspan x="1817" dy="15">Recording()</tspan></text></g>

<g id="n_Instrument" class="node"><rect x="1683" y="3256" width="211" height="376"/><path d="M1683,3282 h211 M1683,3337 h211"/><text class="h" x="1788" y="3274">Instrument</text>
<text x="1694" y="3283"><tspan x="1694" dy="15">+ editedByUser</tspan><tspan x="1694" dy="15">+ existsOnCard</tspan><tspan x="1694" dy="15">+ defaultVelocity</tspan></text>
<text x="1694" y="3338"><tspan x="1694" dy="15">+ Instrument()</tspan><tspan x="1694" dy="15">+ getFilePrefix()</tspan><tspan x="1694" dy="15">+ doAnySoundsUseCC()</tspan><tspan x="1694" dy="15">+ beenEdited()</tspan><tspan x="1694" dy="15">+ setupPatching()</tspan><tspan x="1694" dy="15">+ deleteAnyInstancesOfClip()</tspan><tspan x="1694" dy="15">+ writeDataToFile()</tspan><tspan x="1694" dy="15">+ readTagFromFile()</tspan><tspan x="1694" dy="15">+ compensateInstrumentVolume</tspan><tspan x="1694" dy="15">ForResonance()</tspan><tspan x="1694" dy="15">+ isNoteRowStillAuditioning</tspan><tspan x="1694" dy="15">AsLinearRecordingEnded()</tspan><tspan x="1694" dy="15">+ getNameXMLTag()</tspan><tspan x="1694" dy="15">+ getSlotXMLTag()</tspan><tspan x="1694" dy="15">+ getSubSlotXMLTag()</tspan><tspan x="1694" dy="15">+ isAnyAuditioningHappening()</tspan><tspan x="1694" dy="15"># createNewClipForArrangement</tspan><tspan x="1694" dy="15">Recording()</tspan><tspan x="1694" dy="15"># setupDefaultAudioFileDir()</tspan></text></g>

<g id="n_NoteVector" class="node"><rect x="247" y="3657" width="107" height="105"/><path d="M247,3683 h107 M247,3707 h107"/><text class="h" x="300" y="3675">NoteVector</text>
<text x="258" y="3708"><tspan x="258" dy="15">+ NoteVector()</tspan><tspan x="258" dy="15">+ getElement()</tspan><tspan x="258" dy="15">+ getLast()</tspan></text></g>

<g id="n_Kit" class="node"><rect x="689" y="3797" width="186" height="240"/><path d="M689,3823 h186 M689,3847 h186"/><text class="h" x="782" y="3815">Kit</text>
<text x="700" y="3848"><tspan x="700" dy="15">+ Kit()</tspan><tspan x="700" dy="15">+ getNextDrum()</tspan><tspan x="700" dy="15">+ getPrevDrum()</tspan><tspan x="700" dy="15">+ writeDataToFile()</tspan><tspan x="700" dy="15">+ addDrum()</tspan><tspan x="700" dy="15">+ readFromFile()</tspan><tspan x="700" dy="15">+ getFirstUnassignedDrum()</tspan><tspan x="700" dy="15">+ ~Kit()</tspan><tspan x="700" dy="15">+ getDrumIndex()</tspan><tspan x="700" dy="15">+ getDrumFromIndex()</tspan><tspan x="700" dy="15">and 40 more...</tspan><tspan x="700" dy="15"># isKit()</tspan></text></g>

<g id="n_GlobalEffectableForSong" class="node"><rect x="1055" y="3665" width="187" height="91"/><path d="M1055,3691 h187 M1055,3716 h187"/><text class="h" x="1148" y="3683">GlobalEffectableForSong</text>
<text x="1066" y="3692"><tspan x="1066" dy="15">+ modKnobMode</tspan></text>
<text x="1066" y="3717"><tspan x="1066" dy="15">+ GlobalEffectableForSong()</tspan><tspan x="1066" dy="15">+ getModKnobMode()</tspan></text></g>

<g id="n_DrumName" class="node"><rect x="1012" y="4072" width="116" height="90"/><path d="M1012,4098 h116 M1012,4122 h116"/><text class="h" x="1070" y="4090">DrumName</text>
<text x="1023" y="4123"><tspan x="1023" dy="15">+ DrumName()</tspan><tspan x="1023" dy="15">+ ~DrumName()</tspan></text></g>

<g id="n_Drum" class="node"><rect x="676" y="4190" width="210" height="316"/><path d="M676,4216 h210 M676,4331 h210"/><text class="h" x="781" y="4208">Drum</text>
<text x="687" y="4217"><tspan x="687" dy="15">+ type</tspan><tspan x="687" dy="15">+ noteRowAssignedTemp</tspan><tspan x="687" dy="15">+ earlyNoteVelocity</tspan><tspan x="687" dy="15">+ earlyNoteStillActive</tspan><tspan x="687" dy="15">+ auditioned</tspan><tspan x="687" dy="15">+ lastMIDIChannelAuditioned</tspan><tspan x="687" dy="15">+ lastExpressionInputsReceived</tspan></text>
<text x="687" y="4332"><tspan x="687" dy="15">+ Drum()</tspan><tspan x="687" dy="15">+ ~Drum()</tspan><tspan x="687" dy="15">+ noteOn()</tspan><tspan x="687" dy="15">+ noteOff()</tspan><tspan x="687" dy="15">+ allowNoteTails()</tspan><tspan x="687" dy="15">+ anyNoteIsOn()</tspan><tspan x="687" dy="15">+ hasAnyVoices()</tspan><tspan x="687" dy="15">+ unassignAllVoices()</tspan><tspan x="687" dy="15">+ loadAllSamples()</tspan><tspan x="687" dy="15">+ prepareForHibernation()</tspan><tspan x="687" dy="15">and 13 more...</tspan></text></g>

<g id="n_AutoParamState" class="node"><rect x="126" y="4533" width="117" height="75"/><path d="M126,4559 h117 M126,4584 h117"/><text class="h" x="184" y="4551">AutoParamState</text>
<text x="137" y="4560"><tspan x="137" dy="15">+ value</tspan></text></g>

<g id="n_NoteRow" class="node"><rect x="809" y="4634" width="218" height="376"/><path d="M809,4660 h218 M809,4835 h218"/><text class="h" x="918" y="4652">NoteRow</text>
<text x="820" y="4661"><tspan x="820" dy="15">+ y</tspan><tspan x="820" dy="15">+ muted</tspan><tspan x="820" dy="15">+ loopLengthIfIndependent</tspan><tspan x="820" dy="15">+ lastProcessedPosIfIndependent</tspan><tspan x="820" dy="15">+ repeatCountIfIndependent</tspan><tspan x="820" dy="15">+ currentlyPlayingReversed</tspan><tspan x="820" dy="15">IfIndependent</tspan><tspan x="820" dy="15">+ sequenceDirectionMode</tspan><tspan x="820" dy="15">+ colourOffset</tspan><tspan x="820" dy="15">+ soundingStatus</tspan><tspan x="820" dy="15">+ skipNextNote</tspan></text>
<text x="820" y="4836"><tspan x="820" dy="15">+ NoteRow()</tspan><tspan x="820" dy="15">+ ~NoteRow()</tspan><tspan x="820" dy="15">+ renderRow()</tspan><tspan x="820" dy="15">+ deleteNoteByPos()</tspan><tspan x="820" dy="15">+ stopCurrentlyPlayingNote()</tspan><tspan x="820" dy="15">+ generateRepeats()</tspan><tspan x="820" dy="15">+ toggleMute()</tspan><tspan x="820" dy="15">+ hasNoNotes()</tspan><tspan x="820" dy="15">+ resumePlayback()</tspan><tspan x="820" dy="15">+ writeToFile()</tspan><tspan x="820" dy="15">and 45 more...</tspan></text></g>

<g id="n_MelodicInstrument" class="node red"><rect x="1666" y="3790" width="245" height="255"/><path d="M1666,3816 h245 M1666,3840 h245"/><text class="h" x="1788" y="3808">MelodicInstrument</text>
<text x="1677" y="3841"><tspan x="1677" dy="15">+ MelodicInstrument()</tspan><tspan x="1677" dy="15">+ sendNote()</tspan><tspan x="1677" dy="15">+ ccReceivedFromInputMIDIChannel()</tspan><tspan x="1677" dy="15">+ writeMelodicInstrumentAttributes</tspan><tspan x="1677" dy="15">ToFile()</tspan><tspan x="1677" dy="15">+ writeMelodicInstrumentTags</tspan><tspan x="1677" dy="15">ToFile()</tspan><tspan x="1677" dy="15">+ readTagFromFile()</tspan><tspan x="1677" dy="15">+ offerReceivedNote()</tspan><tspan x="1677" dy="15">+ offerReceivedPitchBend()</tspan><tspan x="1677" dy="15">+ offerReceivedCC()</tspan><tspan x="1677" dy="15">+ offerReceivedAftertouch()</tspan><tspan x="1677" dy="15">and 13 more...</tspan></text></g>

<g id="n_NonAudioInstrument" class="node"><rect x="1446" y="4197" width="194" height="301"/><path d="M1446,4223 h194 M1446,4248 h194"/><text class="h" x="1543" y="4215">NonAudioInstrument</text>
<text x="1457" y="4224"><tspan x="1457" dy="15">+ channel</tspan></text>
<text x="1457" y="4249"><tspan x="1457" dy="15">+ NonAudioInstrument()</tspan><tspan x="1457" dy="15">+ renderOutput()</tspan><tspan x="1457" dy="15">+ sendNote()</tspan><tspan x="1457" dy="15">+ doTickForwardForArp()</tspan><tspan x="1457" dy="15">+ getParamManager()</tspan><tspan x="1457" dy="15">+ polyphonicExpressionEvent</tspan><tspan x="1457" dy="15">OnChannelOrNote()</tspan><tspan x="1457" dy="15">+ beenEdited()</tspan><tspan x="1457" dy="15">+ getSlotXMLTag()</tspan><tspan x="1457" dy="15">+ getSubSlotXMLTag()</tspan><tspan x="1457" dy="15">+ noteOnPostArp()</tspan><tspan x="1457" dy="15">+ noteOffPostArp()</tspan><tspan x="1457" dy="15">+ readTagFromFile()</tspan><tspan x="1457" dy="15">+ toModControllable()</tspan><tspan x="1457" dy="15"># polyphonicExpressionEvent</tspan><tspan x="1457" dy="15">PostArpeggiator()</tspan></text></g>

<g id="n_MPEOutputMemberChannel" class="node"><rect x="1715" y="4287" width="185" height="120"/><path d="M1715,4313 h185 M1715,4383 h185"/><text class="h" x="1807" y="4305">MPEOutputMemberChannel</text>
<text x="1726" y="4314"><tspan x="1726" dy="15">+ lastNoteCode</tspan><tspan x="1726" dy="15">+ noteOffOrder</tspan><tspan x="1726" dy="15">+ lastXValueSent</tspan><tspan x="1726" dy="15">+ lastYAndZValuesSent</tspan></text></g>

<g id="n_MIDIInstrument" class="node"><rect x="1689" y="4649" width="247" height="346"/><path d="M1689,4675 h247 M1689,4715 h247"/><text class="h" x="1812" y="4667">MIDIInstrument</text>
<text x="1700" y="4676"><tspan x="1700" dy="15">+ channelSuffix</tspan><tspan x="1700" dy="15">+ modKnobCCAssignments</tspan></text>
<text x="1700" y="4716"><tspan x="1700" dy="15">+ MIDIInstrument()</tspan><tspan x="1700" dy="15">+ ccReceivedFromInputMIDIChannel()</tspan><tspan x="1700" dy="15">+ allNotesOff()</tspan><tspan x="1700" dy="15">+ setActiveClip()</tspan><tspan x="1700" dy="15">+ writeDataToFile()</tspan><tspan x="1700" dy="15">+ readTagFromFile()</tspan><tspan x="1700" dy="15">+ readModKnobAssignmentsFrom</tspan><tspan x="1700" dy="15">File()</tspan><tspan x="1700" dy="15">+ sendMIDIPGM()</tspan><tspan x="1700" dy="15">+ changeControlNumberForMod</tspan><tspan x="1700" dy="15">Knob()</tspan><tspan x="1700" dy="15">+ getFirstUnusedCC()</tspan><tspan x="1700" dy="15">and 15 more...</tspan><tspan x="1700" dy="15"># polyphonicExpressionEvent</tspan><tspan x="1700" dy="15">PostArpeggiator()</tspan><tspan x="1700" dy="15"># noteOnPostArp()</tspan><tspan x="1700" dy="15"># noteOffPostArp()</tspan><tspan x="1700" dy="15"># monophonicExpressionEvent()</tspan></text></g>

<g id="n_Song" class="node"><rect x="1608" y="5075" width="223" height="391"/><path d="M1608,5101 h223 M1608,5291 h223"/><text class="h" x="1719" y="5093">Song</text>
<text x="1619" y="5102"><tspan x="1619" dy="15">+ xZoom</tspan><tspan x="1619" dy="15">+ xScroll</tspan><tspan x="1619" dy="15">+ xScrollForReturnToSongView</tspan><tspan x="1619" dy="15">+ xZoomForReturnToSongView</tspan><tspan x="1619" dy="15">+ tripletsOn</tspan><tspan x="1619" dy="15">+ tripletsLevel</tspan><tspan x="1619" dy="15">+ timePerTimerTickBig</tspan><tspan x="1619" dy="15">+ divideByTimePerTimerTick</tspan><tspan x="1619" dy="15">+ insideWorldTickMagnitude</tspan><tspan x="1619" dy="15">+ insideWorldTickMagnitude</tspan><tspan x="1619" dy="15">OffsetFromBPM</tspan><tspan x="1619" dy="15">and 29 more...</tspan></text>
<text x="1619" y="5292"><tspan x="1619" dy="15">+ Song()</tspan><tspan x="1619" dy="15">+ ~Song()</tspan><tspan x="1619" dy="15">+ mayDoubleTempo()</tspan><tspan x="1619" dy="15">+ ensureAtLeastOneSessionClip()</tspan><tspan x="1619" dy="15">+ transposeAllScaleModeClips()</tspan><tspan x="1619" dy="15">+ anyScaleModeClips()</tspan><tspan x="1619" dy="15">+ setRootNote()</tspan><tspan x="1619" dy="15">+ addModeNote()</tspan><tspan x="1619" dy="15">+ addMajorDependentModeNotes()</tspan><tspan x="1619" dy="15">+ yNoteIsYVisualWithinOctave()</tspan><tspan x="1619" dy="15">and 139 more...</tspan></text></g>

<g id="n_ModelStackWithNoteRowId" class="node"><rect x="1600" y="5532" width="238" height="151"/><path d="M1600,5558 h238 M1600,5583 h238"/><text class="h" x="1719" y="5550">ModelStackWithNoteRowId</text>
<text x="1611" y="5559"><tspan x="1611" dy="15">+ noteRowId</tspan></text>
<text x="1611" y="5584"><tspan x="1611" dy="15">+ toWithTimelineCounter()</tspan><tspan x="1611" dy="15">+ getTimelineCounter()</tspan><tspan x="1611" dy="15">+ getTimelineCounterAllowNull()</tspan><tspan x="1611" dy="15">+ setTimelineCounter()</tspan><tspan x="1611" dy="15">+ timelineCounterIsSet()</tspan><tspan x="1611" dy="15">+ automaticallyAddNoteRowFromId()</tspan></text></g>

<g id="n_ModelStackWithNoteRow" class="node"><rect x="849" y="5735" width="229" height="285"/><path d="M849,5761 h229 M849,5785 h229"/><text class="h" x="963" y="5753">ModelStackWithNoteRow</text>
<text x="860" y="5786"><tspan x="860" dy="15">+ setNoteRow()</tspan><tspan x="860" dy="15">+ getNoteRow()</tspan><tspan x="860" dy="15">+ getNoteRowAllowNull()</tspan><tspan x="860" dy="15">+ setNoteRow()</tspan><tspan x="860" dy="15">+ addOtherTwoThings()</tspan><tspan x="860" dy="15">+ addModControllable()</tspan><tspan x="860" dy="15">+ addOtherTwoThingsAutomatically</tspan><tspan x="860" dy="15">GivenNoteRow()</tspan><tspan x="860" dy="15">+ getLoopLength()</tspan><tspan x="860" dy="15">+ getRepeatCount()</tspan><tspan x="860" dy="15">+ getLastProcessedPos()</tspan><tspan x="860" dy="15">+ getLivePos()</tspan><tspan x="860" dy="15">+ isCurrentlyPlayingReversed()</tspan><tspan x="860" dy="15">+ getPosAtWhichPlaybackWill</tspan><tspan x="860" dy="15">Cut()</tspan></text></g>

<g id="n_ModelStackWithModControllable" class="node"><rect x="857" y="6087" width="212" height="75"/><path d="M857,6113 h212 M857,6137 h212"/><text class="h" x="963" y="6105">ModelStackWithModControllable</text>
<text x="868" y="6138"><tspan x="868" dy="15">+ addParamManager()</tspan></text></g>

<g id="n_ModelStackWithThreeMainThings" class="node"><rect x="2381" y="6213" width="217" height="150"/><path d="M2381,6239 h217 M2381,6263 h217"/><text class="h" x="2489" y="6231">ModelStackWithThreeMainThings</text>
<text x="2392" y="6264"><tspan x="2392" dy="15">+ addParamCollection()</tspan><tspan x="2392" dy="15">+ addParamCollectionSummary()</tspan><tspan x="2392" dy="15">+ addParamCollectionAndId()</tspan><tspan x="2392" dy="15">+ addParam()</tspan><tspan x="2392" dy="15">+ addSoundFlags()</tspan><tspan x="2392" dy="15">+ addDummySoundFlags()</tspan></text></g>

<g id="n_ModelStackWithParamCollection" class="node"><rect x="2485" y="6417" width="213" height="90"/><path d="M2485,6443 h213 M2485,6467 h213"/><text class="h" x="2591" y="6435">ModelStackWithParamCollection</text>
<text x="2496" y="6468"><tspan x="2496" dy="15">+ addParamId()</tspan><tspan x="2496" dy="15">+ addAutoParam()</tspan></text></g>

<g id="n_ModelStackWithParamId" class="node"><rect x="1434" y="6582" width="166" height="76"/><path d="M1434,6608 h166 M1434,6633 h166"/><text class="h" x="1517" y="6600">ModelStackWithParamId</text>
<text x="1445" y="6609"><tspan x="1445" dy="15">+ paramId</tspan></text>
<text x="1445" y="6634"><tspan x="1445" dy="15">+ addAutoParam()</tspan></text></g>

<g id="n_Consequence" class="node"><rect x="45" y="6558" width="170" height="121"/><path d="M45,6584 h170 M45,6609 h170"/><text class="h" x="130" y="6576">Consequence</text>
<text x="56" y="6585"><tspan x="56" dy="15">+ type</tspan></text>
<text x="56" y="6610"><tspan x="56" dy="15">+ Consequence()</tspan><tspan x="56" dy="15">+ ~Consequence()</tspan><tspan x="56" dy="15">+ prepareForDestruction()</tspan><tspan x="56" dy="15">+ revert()</tspan></text></g>

<g id="n_ConsequenceParamChange" class="node grey"><rect x="211" y="6745" width="205" height="106"/><path d="M211,6771 h205 M211,6811 h205"/><text class="h" x="313" y="6763">ConsequenceParamChange</text>
<text x="222" y="6772"><tspan x="222" dy="15">+ modelStackMemory</tspan><tspan x="222" dy="15">+ @1</tspan></text>
<text x="222" y="6812"><tspan x="222" dy="15">+ ConsequenceParamChange()</tspan><tspan x="222" dy="15">+ revert()</tspan></text></g>
</svg>
